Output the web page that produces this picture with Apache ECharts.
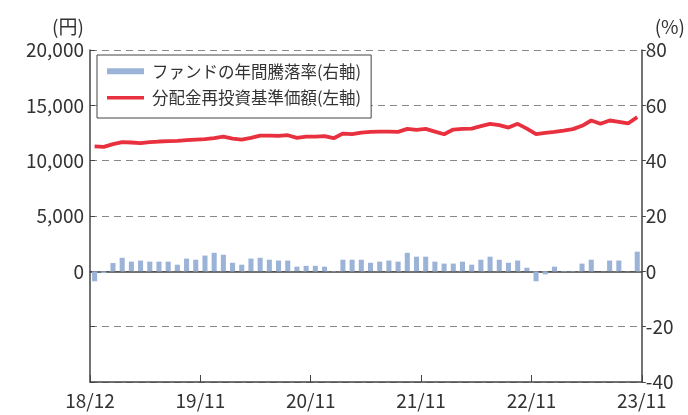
<!DOCTYPE html>
<html>
<head>
<meta charset="utf-8">
<script src="https://cdn.jsdelivr.net/npm/echarts@6/dist/echarts.min.js"></script>
<style>
  html, body { margin: 0; padding: 0; background: #fff; }
  #chart { width: 688px; height: 415px; }
</style>
</head>
<body>
<div id="chart"></div>
<script>
// 月（18/12〜23/11）
const months = [];
for (let i = 0; i < 60; i++) {
  const y = 18 + Math.floor((11 + i) / 12);
  const m = ((11 + i) % 12) + 1;
  months.push(y + '/' + (m < 10 ? '0' + m : m));
}

// 軸目盛ラベル
const xTickLabels = ['18/12', '19/11', '20/11', '21/11', '22/11', '23/11'];

// ファンドの年間騰落率（右軸, %）
const fundReturn = [
  -3.6, -0.6, 3.0, 4.9, 3.5, 3.9, 3.5, 3.5, 3.5, 2.4, 4.6, 4.2,
  5.7, 6.7, 6.0, 3.1, 2.4, 4.6, 4.9, 4.2, 3.9, 3.9, 1.7, 2.0,
  2.0, 1.7, -0.2, 4.2, 4.2, 4.2, 3.1, 3.5, 3.9, 3.5, 6.7, 5.3,
  5.3, 3.5, 2.8, 2.8, 3.5, 2.4, 4.2, 5.3, 4.2, 3.1, 3.9, 1.3,
  -3.6, -1.1, 1.7, -0.2, -0.2, 2.8, 4.2, 0, 3.9, 3.9, 0, 7.1
];

// 分配金再投資基準価額（左軸, 円）
const navValues = [
  11300, 11250, 11490, 11670, 11640, 11580, 11670, 11730, 11760, 11790, 11850, 11910,
  11940, 12030, 12180, 12000, 11900, 12060, 12270, 12270, 12240, 12300, 12060, 12180,
  12180, 12210, 12030, 12450, 12390, 12540, 12600, 12630, 12630, 12600, 12870, 12780,
  12870, 12630, 12390, 12810, 12870, 12900, 13120, 13330, 13210, 12990, 13330, 12900,
  12390, 12510, 12600, 12720, 12850, 13150, 13630, 13330, 13630, 13510, 13360, 13930
];

const FONT = '"Noto Sans CJK JP", "Noto Sans", sans-serif';
const TEXT = '#333';
const RED = '#e8303e';

let chart = echarts.init(document.getElementById('chart'));

let option = {
  animation: false,
  textStyle: { fontFamily: FONT },
  grid: { left: 90, right: 46, top: 50, bottom: 33 },
  legend: {
    orient: 'vertical',
    left: 97,
    top: 55,
    padding: [8, 10, 12, 10],
    itemGap: 10,
    itemWidth: 37,
    itemHeight: 6,
    backgroundColor: '#fff',
    borderColor: '#444',
    borderWidth: 1,
    borderRadius: 0,
    textStyle: { fontSize: 16.5, color: TEXT, fontFamily: FONT, padding: [0, 0, 0, 3] },
    data: [
      { name: 'ファンドの年間騰落率(右軸)', icon: 'rect' },
      { name: '分配金再投資基準価額(左軸)', icon: 'path://M0,0H37V3.5H0Z' }
    ]
  },
  xAxis: [
    {
      type: 'category',
      data: months,
      boundaryGap: true,
      axisLine: { onZero: true, lineStyle: { color: '#444', width: 1.5 } },
      axisTick: { show: false },
      axisLabel: { show: false },
      splitLine: { show: false }
    },
    {
      type: 'value',
      min: 0,
      max: 60,
      interval: 12,
      position: 'bottom',
      axisLine: { onZero: false, lineStyle: { color: '#444', width: 1.5 } },
      axisTick: { show: true, inside: true, length: 7, lineStyle: { color: '#444' } },
      axisLabel: {
        color: TEXT,
        fontSize: 19,
        margin: 9,
        formatter: v => xTickLabels[v / 12]
      },
      splitLine: { show: false }
    }
  ],
  yAxis: [
    {
      type: 'value',
      name: '(円)',
      nameLocation: 'end',
      nameGap: 14,
      nameTextStyle: { color: TEXT, fontSize: 19, align: 'center', padding: [0, 0, 0, -44] },
      min: -10000,
      max: 20000,
      interval: 5000,
      axisLine: { show: true, lineStyle: { color: '#444', width: 1.5 } },
      axisTick: { show: true, inside: true, length: 5, lineStyle: { color: '#444' } },
      axisLabel: {
        color: TEXT,
        fontSize: 19,
        margin: 6,
        formatter: v => v < 0 ? '' : v.toLocaleString('en-US')
      },
      splitLine: { show: true, lineStyle: { color: '#888', type: [7, 5], width: 1 } }
    },
    {
      type: 'value',
      name: '(%)',
      nameLocation: 'end',
      nameGap: 14,
      nameTextStyle: { color: TEXT, fontSize: 19, align: 'center', padding: [0, 0, 0, 56] },
      min: -40,
      max: 80,
      interval: 20,
      axisLine: { show: true, lineStyle: { color: '#444', width: 1.5 } },
      axisTick: { show: true, length: 4, lineStyle: { color: '#444' } },
      axisLabel: { color: TEXT, fontSize: 19, margin: 4 },
      splitLine: { show: false }
    }
  ],
  series: [
    {
      name: 'ファンドの年間騰落率(右軸)',
      type: 'bar',
      xAxisIndex: 0,
      yAxisIndex: 1,
      data: fundReturn,
      barWidth: '55%',
      itemStyle: { color: '#9cb3d8' }
    },
    {
      name: '分配金再投資基準価額(左軸)',
      type: 'line',
      xAxisIndex: 0,
      yAxisIndex: 0,
      data: navValues,
      symbol: 'none',
      lineStyle: { color: RED, width: 3.8 },
      itemStyle: { color: RED }
    }
  ]
};

chart.setOption(option);
</script>
</body>
</html>
